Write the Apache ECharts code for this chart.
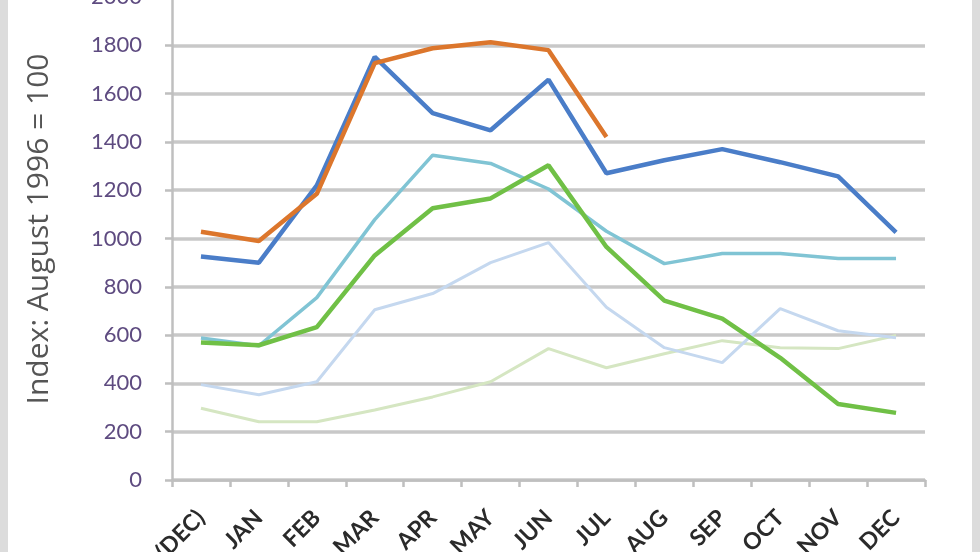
<!DOCTYPE html>
<html><head><meta charset="utf-8">
<script src="https://cdn.jsdelivr.net/npm/echarts@6/dist/echarts.min.js"></script>
<style>html,body{margin:0;padding:0;background:#fff;overflow:hidden}#c{width:980px;height:552px}</style>
</head><body><div id="c"></div>
<script>
var categories = ['(DEC)','JAN','FEB','MAR','APR','MAY','JUN','JUL','AUG','SEP','OCT','NOV','DEC'];
var yTitle = 'Index: August 1996 = 100';
var lightGreen = [297,241,241,290,344,407,544,465,523,577,548,544,598];
var lightBlue  = [395,353,407,705,772,900,983,715,548,486,710,618,589];
var teal       = [588,556,755,1078,1345,1311,1205,1030,896,938,938,917,917];
var green      = [569,558,633,930,1125,1166,1303,965,743,668,506,315,278];
var blue       = [925,900,1220,1752,1519,1448,1658,1270,1324,1370,1316,1257,1025];
var orange     = [1028,990,1185,1726,1788,1813,1780,1420,null,null,null,null,null];

var chart = echarts.init(document.getElementById('c'), null, {renderer:'canvas'});
function s(name, data, color, w){ return {name:name,type:'line',data:data,symbol:'none',
  lineStyle:{color:color,width:w},itemStyle:{color:color},connectNulls:false,animation:false}; }
chart.setOption({
  animation:false,
  backgroundColor:'#ffffff',
  grid:{left:172,right:55,top:-3,bottom:72,containLabel:false,outerBoundsMode:'none'},
  graphic:[
    {type:'rect',left:0,top:0,shape:{width:8,height:552},style:{fill:'#dcdcdc'},z:100},
    {type:'rect',left:972,top:0,shape:{width:8,height:552},style:{fill:'#dcdcdc'},z:100},
    {type:'text',x:39,y:229,rotation:Math.PI/2,z:100,
      style:{text:yTitle,fill:'#555555',font:'30px "Open Sans"',textAlign:'center',textVerticalAlign:'middle'}}
  ],
  xAxis:{type:'category',data:categories,boundaryGap:true,
    axisLine:{lineStyle:{color:'#bfbfbf',width:2.5}},
    axisTick:{show:true,length:7,lineStyle:{color:'#bfbfbf',width:2.5}},
    axisLabel:{rotate:45,margin:34,fontFamily:'Lato',fontWeight:'bold',fontSize:23,color:'#2a2a2a',interval:0},
    splitLine:{show:false}},
  yAxis:{type:'value',min:0,max:2000,interval:200,
    axisLine:{show:true,lineStyle:{color:'#bfbfbf',width:2.5}},
    axisTick:{show:true,length:7,lineStyle:{color:'#bfbfbf',width:2.5}},
    axisLabel:{fontFamily:'Lato',fontSize:22,color:'#5e4b80',margin:30,formatter:function(v){return String(v);}},
    splitLine:{lineStyle:{color:'#c8c8c8',width:3.5}}},
  series:[
    s('s6',lightGreen,'#d5e6c2',3),
    s('s5',lightBlue,'#c5d8ef',3),
    s('s4',teal,'#80c4d4',3.5),
    s('s3',green,'#70c046',4.5),
    s('s2',blue,'#4a7dc8',4.5),
    s('s1',orange,'#dc762c',4.5)
  ]
});
</script></body></html>
